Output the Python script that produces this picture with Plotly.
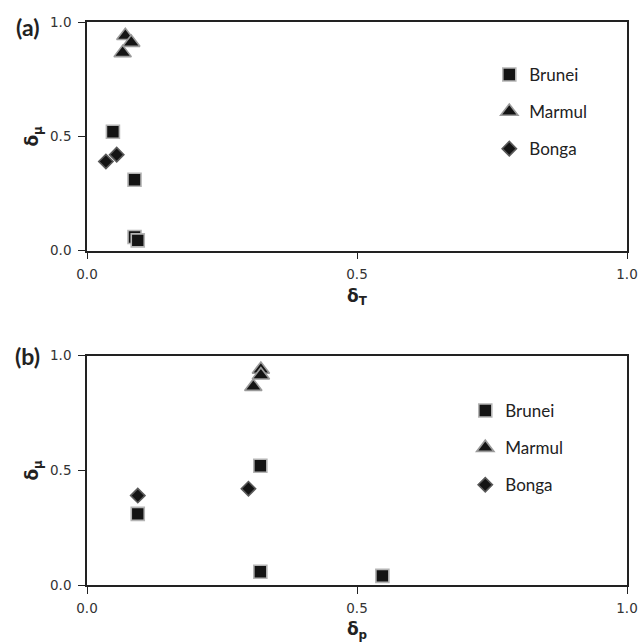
import plotly.graph_objects as go

# Panel (a): delta_T vs delta_mu
brunei_a_x = [0.048, 0.088, 0.088, 0.094]
brunei_a_y = [0.52, 0.31, 0.06, 0.045]
marmul_a_x = [0.071, 0.082, 0.066]
marmul_a_y = [0.94, 0.91, 0.865]
bonga_a_x = [0.035, 0.055]
bonga_a_y = [0.39, 0.42]

# Panel (b): delta_p vs delta_mu
brunei_b_x = [0.094, 0.321, 0.321, 0.547]
brunei_b_y = [0.31, 0.52, 0.058, 0.04]
marmul_b_x = [0.322, 0.322, 0.308]
marmul_b_y = [0.94, 0.915, 0.865]
bonga_b_x = [0.094, 0.299]
bonga_b_y = [0.39, 0.42]

tick_vals = [0.0, 0.5, 1.0]
tick_text = ["0.0", "0.5", "1.0"]
series_names = ["Brunei", "Marmul", "Bonga"]

styles = {
    "Brunei": dict(symbol="square", size=13, color="#141414", line=dict(color="#b4b4b4", width=1.6)),
    "Marmul": dict(symbol="triangle-up", size=15, color="#141414", line=dict(color="#9a9a9a", width=1.6)),
    "Bonga": dict(symbol="diamond", size=11, color="#141414", line=dict(color="#5a5a5a", width=1.6)),
}

fig = go.Figure()
panels = [
    ("x", "y", "legend", [(brunei_a_x, brunei_a_y), (marmul_a_x, marmul_a_y), (bonga_a_x, bonga_a_y)]),
    ("x2", "y2", "legend2", [(brunei_b_x, brunei_b_y), (marmul_b_x, marmul_b_y), (bonga_b_x, bonga_b_y)]),
]
for xa, ya, lg, data in panels:
    for name, (xs, ys) in zip(series_names, data):
        fig.add_trace(go.Scatter(
            x=xs, y=ys, mode="markers", name=name, xaxis=xa, yaxis=ya,
            legend=lg, legendgroup=lg + name, marker=styles[name], cliponaxis=False,
        ))

axis_common = dict(
    range=[0, 1], tickvals=tick_vals, ticktext=tick_text, showline=True, mirror=True,
    linecolor="#222222", linewidth=1.6, ticks="outside", ticklen=7, tickwidth=1.3,
    tickcolor="#222222", showgrid=False, zeroline=False, automargin=False,
    tickfont=dict(family="DejaVu Sans", size=13.5, color="#333333"),
)
title_font = dict(family="DejaVu Sans", size=17, color="#222222")

dom_a = [0.5938, 1.0]
dom_b = [0.0, 0.4073]

fig.update_layout(
    width=640, height=642, plot_bgcolor="white", paper_bgcolor="white",
    margin=dict(l=86.5, r=13, t=22, b=57, autoexpand=False),
    showlegend=True,
    xaxis=dict(axis_common, domain=[0, 1], anchor="y", ticklabelstandoff=3,
               title=dict(text="<b>δ<sub>T</sub></b>", font=title_font, standoff=9)),
    yaxis=dict(axis_common, domain=dom_a, anchor="x", ticklabelstandoff=4,
               title=dict(text="<b>δ<sub>μ</sub></b>", font=title_font, standoff=7)),
    xaxis2=dict(axis_common, domain=[0, 1], anchor="y2", ticklabelstandoff=3,
                title=dict(text="<b>δ<sub>p</sub></b>", font=title_font, standoff=9)),
    yaxis2=dict(axis_common, domain=dom_b, anchor="x2", ticklabelstandoff=4,
                title=dict(text="<b>δ<sub>μ</sub></b>", font=title_font, standoff=7)),
    legend=dict(x=0.745, y=0.938, xanchor="left", yanchor="top", bgcolor="rgba(0,0,0,0)",
                font=dict(family="Lato", size=17, color="#222222"), tracegroupgap=12,
                itemwidth=30),
    legend2=dict(x=0.7005, y=0.341, xanchor="left", yanchor="top", bgcolor="rgba(0,0,0,0)",
                 font=dict(family="Lato", size=17, color="#222222"), tracegroupgap=12,
                 itemwidth=30),
    annotations=[
        dict(text="<b>(a)</b>", xref="paper", yref="paper", x=-0.111, y=1.0, xanchor="center",
             yanchor="middle", yshift=-5, showarrow=False,
             font=dict(family="Lato", size=23, color="#222222")),
        dict(text="<b>(b)</b>", xref="paper", yref="paper", x=-0.111, y=0.4073, xanchor="center",
             yanchor="middle", showarrow=False,
             font=dict(family="Lato", size=23, color="#222222")),
    ],
)

# Remove the browser's default 8px page margin so the 640x642 figure fills the window.
fig.write_html(
    "out.html",
    config={"displayModeBar": False},
    post_script="document.body.style.margin='0px';document.documentElement.style.overflow='hidden';",
)
